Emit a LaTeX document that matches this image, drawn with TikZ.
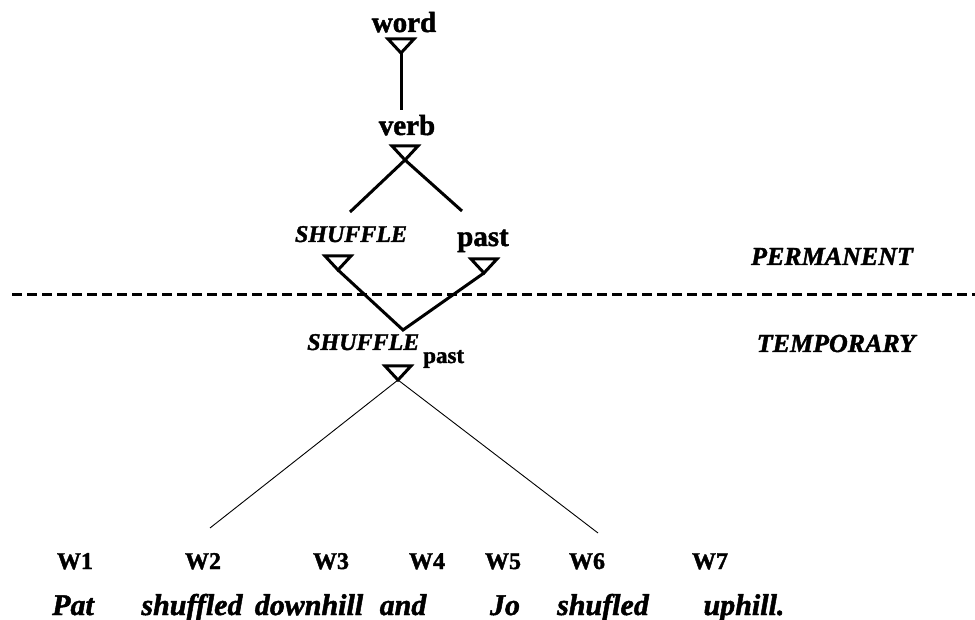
\documentclass[tikz,border=0pt]{standalone}
\usepackage{fontspec}
\setmainfont{Liberation Serif}[BoldFeatures={FakeBold=1.6}, BoldItalicFeatures={FakeBold=1.6}]

\begin{document}
\begin{tikzpicture}[x=1pt,y=-1pt,
    every node/.style={inner sep=0pt},
    lbl/.style={anchor=base, font=\fontsize{29}{30}\selectfont\bfseries},
    concept/.style={anchor=base, font=\fontsize{24}{26}\selectfont\bfseries\itshape},
    store/.style={anchor=base, font=\fontsize{26}{28}\selectfont\bfseries\itshape},
    wnum/.style={anchor=base, font=\fontsize{24}{26}\selectfont\bfseries},
    wtext/.style={anchor=base, font=\fontsize{30}{32}\selectfont\bfseries\itshape},
    link/.style={line width=3pt},
    thinlink/.style={line width=0.9pt},
    tri/.pic={\draw[line width=3pt, line join=miter] (0,0) -- (-13,-14) -- (13,-14) -- cycle;}]
    \useasboundingbox (0,0) rectangle (975,620);

    % permanent part
    \node[lbl] (word) at (404,32) {word};
    \coordinate (wordtip) at (401,53);
    \pic at (wordtip) {tri};
    \node[lbl] (verb) at (407,135) {verb};
    \coordinate (verbin) at (401,110);
    \coordinate (verbtip) at (405,160);
    \pic at (verbtip) {tri};
    \node[concept] (shuffle) at (351,242) {SHUFFLE};
    \node[lbl] (past) at (483,246) {past};
    \coordinate (shufflein) at (350,212);
    \coordinate (pastin) at (462,211);
    \coordinate (shuffletip) at (338,270);
    \coordinate (pasttip) at (484,273);
    \pic at (shuffletip) {tri};
    \pic at (pasttip) {tri};

    \draw[link] (wordtip) -- (verbin);
    \draw[link] (shufflein) -- (verbtip) -- (pastin);

    \node[store] (perm) at (832,265) {PERMANENT};
    \coordinate (dl) at (12,295);
    \coordinate (dr) at (975,295);
    \draw[line width=3pt, dash pattern=on 10pt off 5pt] (dl) -- (dr);
    \node[store] (temp) at (836,352) {TEMPORARY};

    % temporary part
    \coordinate (join) at (403,330);
    \draw[link] (shuffletip) -- (join) -- (pasttip);
    \node[concept, anchor=base west] (shpast) at (307,350)
        {SHUFFLE\raisebox{-13pt}{\kern4pt\fontsize{23}{24}\selectfont\upshape past}};
    \coordinate (shpasttip) at (398,380);
    \pic at (shpasttip) {tri};
    \coordinate (w2in) at (210,528);
    \coordinate (w6in) at (598,533);
    \draw[thinlink] (w2in) -- (shpasttip) -- (w6in);

    % words
    \foreach \x/\i in {75/1, 203/2, 331/3, 427/4, 503/5, 587/6, 710/7}
        \node[wnum] (w\i) at (\x,569) {W\i};
    \foreach \x/\t [count=\i] in {73/Pat, 192/shuffled, 309/downhill, 403/and, 505/Jo, 603/shufled, 744/uphill.}
        \node[wtext] (t\i) at (\x,615) {\t};
\end{tikzpicture}
\end{document}
